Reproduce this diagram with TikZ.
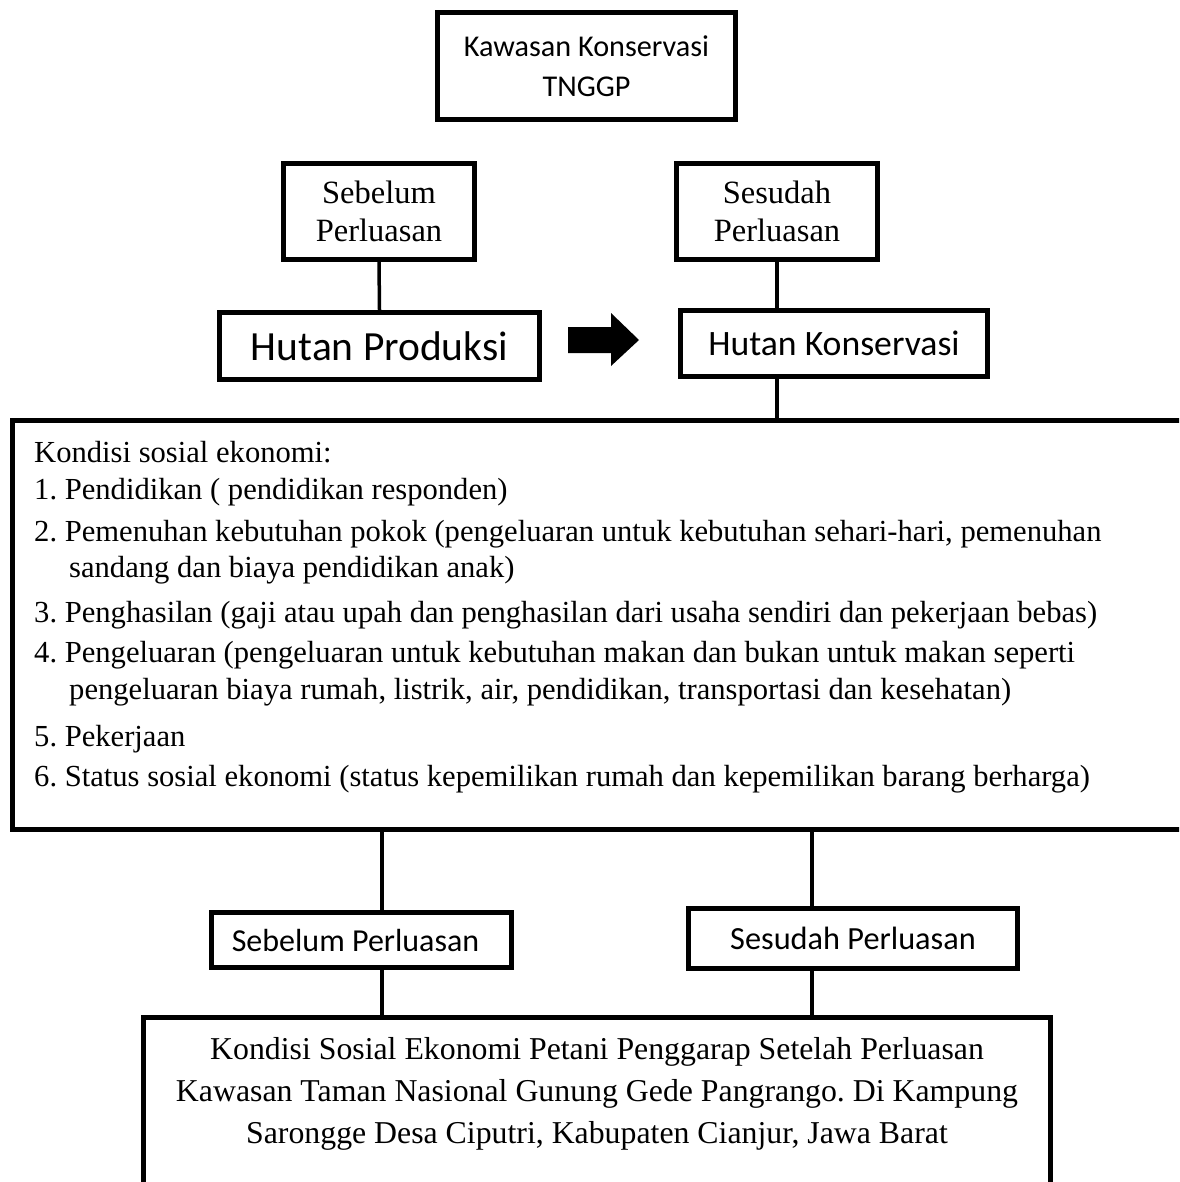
\documentclass[tikz,border=0pt]{standalone}
\usepackage{fontspec}
\setmainfont{Liberation Serif}
\newfontfamily\calibri{Carlito}
\frenchspacing
\begin{document}
\frenchspacing
\begin{tikzpicture}[x=1pt,y=-1pt,
  box/.style={draw, line width=5pt, inner sep=0pt, rectangle},
  conn/.style={line width=3.5pt},
  lst/.style={anchor=base west, inner sep=0pt, font=\fontsize{30.6}{36}\selectfont}]
\clip (0,0) rectangle (1179,1182);
\fill[white] (0,0) rectangle (1179,1182);
% boxes
\node[box, minimum width=298pt, minimum height=107pt, align=center,
  font=\calibri\fontsize{30.2}{40}\selectfont] (top) at (586.5,66) {Kawasan Konservasi\\TNGGP};
\node[box, minimum width=191pt, minimum height=96pt, align=center,
  font=\fontsize{32.5}{38}\selectfont] (sebA) at (379,211.5) {Sebelum\\Perluasan};
\node[box, minimum width=201pt, minimum height=96pt, align=center,
  font=\fontsize{32.5}{38}\selectfont] (sesA) at (777,211.5) {Sesudah\\Perluasan};
\node[box, minimum width=320pt, minimum height=67pt,
  font=\calibri\fontsize{41.5}{48}\selectfont] (hp) at (379.5,346) {Hutan Produksi};
\node[box, minimum width=307pt, minimum height=66pt,
  font=\calibri\fontsize{35.7}{42}\selectfont] (hk) at (834,343.5) {Hutan Konservasi};
\node[box, line width=5.5pt, minimum width=1180pt, minimum height=409pt] (kondisi) at (602.5,625) {};
\node[box, minimum width=300pt, minimum height=55pt,
  font=\calibri\fontsize{32}{38}\selectfont] (sebB) at (361.5,940) {\hspace*{-12pt}Sebelum Perluasan};
\node[box, minimum width=329pt, minimum height=60pt,
  font=\calibri\fontsize{32.3}{38}\selectfont] (sesB) at (853,938.5) {Sesudah Perluasan};
\node[box, minimum width=907pt, minimum height=180pt] (final) at (597,1107.5) {};
% arrow
\fill (568,327) -- (611,327) -- (611,313) -- (639,340) -- (611,366) -- (611,353) -- (568,353) -- cycle;
% list text
\node[lst] (l0) at (34,462) {Kondisi sosial ekonomi:};
\node[lst] (l1) at (34,499) {1. Pendidikan ( pendidikan responden)};
\node[lst] (l2) at (34,541) {2. Pemenuhan kebutuhan pokok (pengeluaran untuk kebutuhan sehari-hari, pemenuhan};
\node[lst] (l2b) at (69,577) {sandang dan biaya pendidikan anak)};
\node[lst] (l3) at (34,622) {3. Penghasilan (gaji atau upah dan penghasilan dari usaha sendiri dan pekerjaan bebas)};
\node[lst] (l4) at (34,662) {4. Pengeluaran (pengeluaran untuk kebutuhan makan dan bukan untuk makan seperti};
\node[lst] (l4b) at (69,699) {pengeluaran biaya rumah, listrik, air, pendidikan, transportasi dan kesehatan)};
\node[lst] (l5) at (34,746) {5. Pekerjaan};
\node[lst] (l6) at (34,786) {6. Status sosial ekonomi (status kepemilikan rumah dan kepemilikan barang berharga)};
% final text
\node[inner sep=0pt, align=center, font=\fontsize{31.8}{42}\selectfont] (finaltext) at (597,1094)
  {Kondisi Sosial Ekonomi Petani Penggarap Setelah Perluasan\\Kawasan Taman Nasional Gunung Gede Pangrango. Di Kampung\\Sarongge Desa Ciputri, Kabupaten Cianjur, Jawa Barat};
% connectors
\coordinate (lx) at (382,870);
\coordinate (rx) at (812,870);
\draw[conn] (sebA.south) -- (hp.north);
\draw[conn] (sesA.south) -- (sesA.south |- hk.north);
\draw[conn] (sesA.south |- hk.south) -- (sesA.south |- kondisi.north);
\draw[conn] (lx |- kondisi.south) -- (lx |- sebB.north);
\draw[conn] (lx |- sebB.south) -- (lx |- final.north);
\draw[conn] (rx |- kondisi.south) -- (rx |- sesB.north);
\draw[conn] (rx |- sesB.south) -- (rx |- final.north);
\end{tikzpicture}
\end{document}
